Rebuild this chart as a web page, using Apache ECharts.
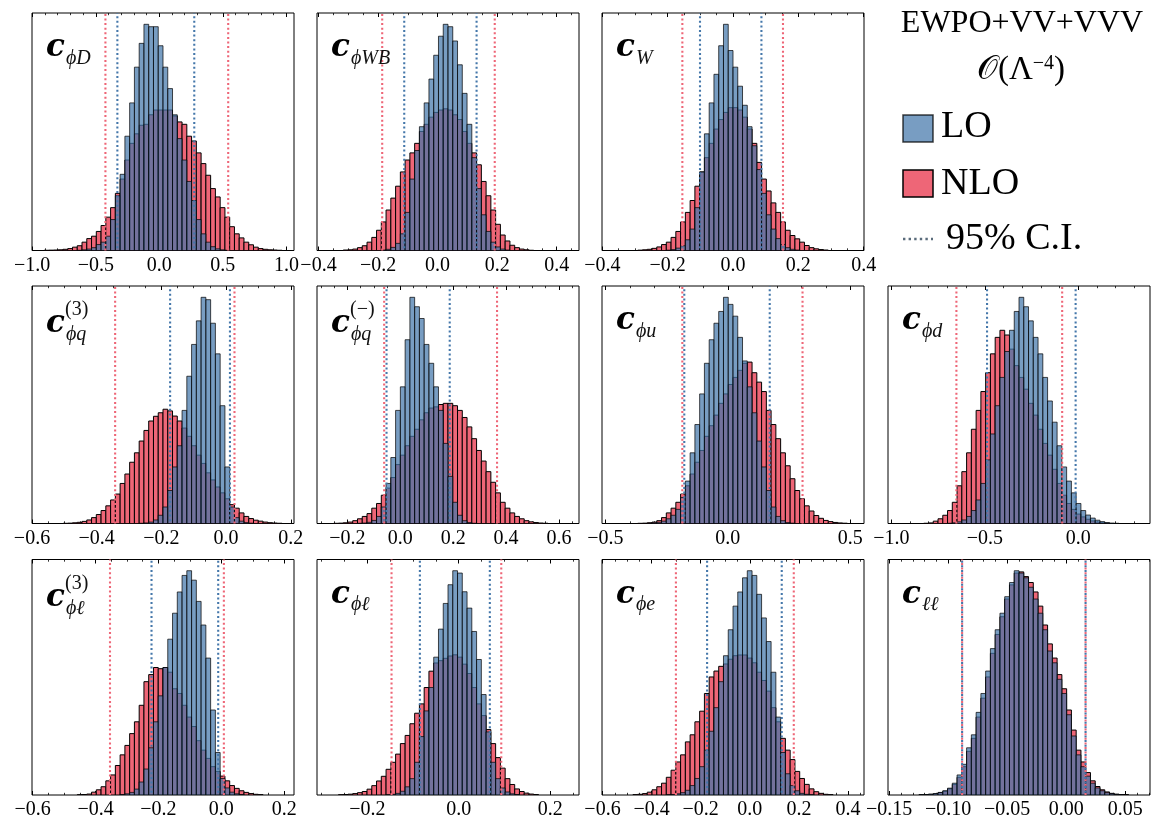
<!DOCTYPE html>
<html>
<head>
<meta charset="utf-8">
<script src="https://cdn.jsdelivr.net/npm/echarts@6/dist/echarts.min.js"></script>
<style>
  html, body { margin: 0; padding: 0; background: #fff; }
  #chart { width: 1157px; height: 820px; }
</style>
</head>
<body>
<div id="chart"></div>
<script>
// Posterior distributions of the Wilson coefficients (EWPO+VV+VVV, O(Λ^-4)),
// LO vs NLO. Each histogram has 50 equal bins spanning histRange; values are
// bin heights (arbitrary density units).

const subscripts   = ['ϕD', 'ϕWB', 'W', 'ϕq', 'ϕq', 'ϕu', 'ϕd', 'ϕℓ', 'ϕℓ', 'ϕe', 'ℓℓ'];
const superscripts = ['', '', '', '(3)', '(−)', '', '', '(3)', '', '', ''];

const histRange = [
  [-0.908, 0.966], [-0.365, 0.435], [-0.3645, 0.3645],
  [-0.5632, 0.1732], [-0.270, 0.631], [-0.4654, 0.5074], [-0.9543, 0.3203],
  [-0.5641, 0.1931], [-0.284, 0.237], [-0.5535, 0.4165], [-0.1409, 0.0609]
];

const phiD_LO  = [0,0,0,0,0,0,0,0.1,0.3,0.6,1.2,2.5,3.5,6,13,23,32,48,62,77,87,95,94,94,86,77,68,57,47,38,29,21,13,7,3.5,1.6,0.7,0.3,0.1,0,0,0,0,0,0,0,0,0,0,0];
const phiD_NLO = [0.1,0.15,0.2,0.3,0.5,0.8,1.4,2,3.5,5,6,8,10.5,14,18,24,30,38,45,49,52.6,53,57,59,59,59,59,56.5,54,53,48,46,41,36.5,31.6,26,22.5,18,14,10,7,5.3,3.5,2.4,1.4,0.8,0.5,0.3,0.2,0.1];

const phiWB_LO  = [0,0,0,0,0,0,0,0,0,0,0,0.2,0.5,1.3,3,7,16,30,42,52,62,72,82,90,95,94,88,78,66,53,39,26,15,8,3.5,1.5,0.6,0.2,0,0,0,0,0,0,0,0,0,0,0,0];
const phiWB_NLO = [0,0,0,0.2,0.3,0.6,1.2,2,3.5,5.5,8.5,12,17,22,27,33,38,41,45,50,53,56,58,59,59.5,59,57,55,50,45,41,36,29,23,17,11,6.5,4,2.2,1.2,0.6,0.3,0.1,0,0,0,0,0,0,0];

const W_LO  = [0,0,0,0,0,0,0,0,0,0,0,0.15,0.4,1,2,4.5,9,18,33,49,62,74,86,95,84,77,69,61,52,44,34,24,15,9,5,2.5,1.2,0.5,0.2,0,0,0,0,0,0,0,0,0,0,0];
const W_NLO = [0,0,0,0,0,0.15,0.3,0.5,0.9,1.5,2.5,3.5,5.5,8,12,16,21,27,33,39,45,51,55,58,60,60,59,56,51,45,37,30,25,20,16,12,8.5,6.3,4.9,3.5,2.1,1.2,0.7,0.4,0.2,0,0,0,0,0];

const phiq3_LO  = [0,0,0,0,0,0,0,0,0,0,0,0,0,0,0,0,0,0,0,0,0.1,0.25,0.6,1.5,3.5,7,14,24,33,48,62.5,76,86,96,95,85,72,50,24,7,2.5,1,0.4,0.15,0,0,0,0,0,0];
const phiq3_NLO = [0,0,0,0,0.08,0.15,0.3,0.5,0.9,1.5,2.5,3.8,5.5,7.5,10,12.5,17,21,26,30,35,39.5,43.5,45.5,47,48.5,47.8,45.6,43.5,40.5,37,33,29,25.5,21.5,18.5,15.5,13,10.5,8,6.5,4.5,3,2.1,1.4,1,0.6,0.35,0.2,0.1];

const phiqm_LO  = [0,0,0,0,0,0,0.1,0.2,0.5,1.3,3,7,17,28,48,58,78,96,92,87,76,68,58,48,34,20,9,3.5,1.2,0.4,0.1,0,0,0,0,0,0,0,0,0,0,0,0,0,0,0,0,0,0,0];
const phiqm_NLO = [0,0.08,0.15,0.3,0.6,1.2,2,3,4.2,6.5,8.5,12,15,19.5,25,29,33,37,40,44,47,49,49.5,50.5,51,51,50,48,45,41,36,31,26.5,22,17.5,13,9,6.5,4.5,3,2,1.2,0.7,0.4,0.2,0.1,0,0,0,0];

const phiu_LO  = [0,0,0,0,0,0,0,0.15,0.3,0.5,1,2,3.5,6,11,18,30,42,55,68,78,85,90,96,93,88,79,69,58,47,35,24,14,7,3,1.2,0.4,0.15,0,0,0,0,0,0,0,0,0,0,0,0];
const phiu_NLO = [0,0,0,0,0,0.08,0.15,0.3,0.6,1.2,2.5,4.5,6.5,9,12.5,16,21,26,31,37,41.5,46,51,55,59,62,65,68,68.5,64,60,56,48,42,36,30,24.5,19,14,10.5,7.5,5.3,3.4,2.2,1.3,0.8,0.45,0.25,0.12,0];

const phid_LO  = [0,0,0,0,0,0,0,0,0,0,0.1,0.3,0.7,1.5,3,5.5,10,17,27,38,50,62,73,82,90,96,92,86,79,72,62,52,43,33,24,18,13,8.5,5.5,3.6,2.3,1.4,0.8,0.4,0.2,0.1,0,0,0,0];
const phid_NLO = [0,0,0,0,0,0.1,0.25,1,2,3.5,5.5,9,16,22,30,40,48,56,64,72,79,82,80,74,67,62,57,51,46,40,34,29,23,17,12,8.5,6,4,2.8,1.8,1.1,0.6,0.3,0.15,0,0,0,0,0,0];

const phil3_LO  = [0,0,0,0,0,0,0,0,0,0,0,0,0,0,0,0,0.2,0.5,1.1,2.5,5.5,11,20,31,42,54,66,77,86,93,95,91,82,72,58,36,18,7,3,1.2,0.5,0.2,0,0,0,0,0,0,0,0];
const phil3_NLO = [0,0,0,0,0,0,0,0.1,0.2,0.4,1.2,2.2,3.5,6,8.5,12.5,17,21,26,31,38,48,51,54,53.5,54,52,45,43,38,33,29,23,19,15.5,12,10,8,6,4,2.8,1.8,1.1,0.6,0.3,0.15,0,0,0,0];

const phil_LO  = [0,0,0,0,0,0,0,0,0,0,0,0,0.1,0.3,0.7,1.6,3.5,7,14,25,36,46,59,71,82,90,96,95,87,80,70,58,43,27,14,7,3,1.3,0.5,0.2,0,0,0,0,0,0,0,0,0,0];
const phil_NLO = [0,0,0.1,0.2,0.35,0.6,1,1.5,2.5,4,6,8,11,14,17.5,22,25.5,30.5,35,39,46,53,56.5,57.5,58.5,59.5,60,59,56,52,46,39,34,28,22,16,11.5,7,4.5,2.6,1.5,0.8,0.4,0.2,0,0,0,0,0,0];

const phie_LO  = [0,0,0,0,0,0,0,0,0,0,0,0.1,0.2,0.5,1,2,4,7,12,19,27,37,48,59,70,80,86,92,95,93,85,75,65,52,33,18,9,4,1.8,0.7,0.3,0.1,0,0,0,0,0,0,0,0];
const phie_NLO = [0,0,0,0,0.15,0.3,0.6,1.2,2.2,3.5,5,7.5,10.5,14,17,22.5,25.5,31,35.5,43,50,52.5,54.5,55.5,57.5,59,59.3,59.3,58,56,52,48.5,44,37,31,24,19,15,10,7,4.5,2.6,1.4,0.7,0.3,0.15,0,0,0,0];

const ll_LO  = [0,0,0,0,0.1,0.2,0.35,0.6,1.1,1.8,2.9,5,8.5,13,20,25.5,35,43,52.5,62,70,77,84,90,95,94,92,88,83,77,70,61,56,49,43,34,25,17,12,8,5,3,1.8,1,0.5,0.25,0.1,0.05,0,0];
const ll_NLO = [0,0,0,0,0.05,0.15,0.3,0.5,1,1.6,2.6,4.5,7.5,12,18.5,24,33,41,50,60,68,75.5,83,89,94,94.5,92.5,90,86,80,72,64,58,51,45,36,27.5,19,14,9.5,6,3.6,2.2,1.3,0.7,0.35,0.15,0.08,0,0];

const countsLO  = [phiD_LO, phiWB_LO, W_LO, phiq3_LO, phiqm_LO, phiu_LO, phid_LO, phil3_LO, phil_LO, phie_LO, ll_LO];
const countsNLO = [phiD_NLO, phiWB_NLO, W_NLO, phiq3_NLO, phiqm_NLO, phiu_NLO, phid_NLO, phil3_NLO, phil_NLO, phie_NLO, ll_NLO];

// 95% credible intervals
const ciLO = [[-0.330, 0.275], [-0.112, 0.131], [-0.101, 0.087], [-0.173, 0.012], [-0.052, 0.187],
              [-0.178, 0.171], [-0.488, -0.014], [-0.222, -0.010], [-0.085, 0.068], [-0.174, 0.130], [-0.0882, 0.0164]];
const ciNLO = [[-0.424, 0.542], [-0.186, 0.192], [-0.155, 0.153], [-0.343, 0.026], [-0.061, 0.366],
               [-0.186, 0.305], [-0.652, -0.086], [-0.354, 0.008], [-0.147, 0.093], [-0.301, 0.179], [-0.0882, 0.0164]];

// tick labels
const majorTicks = [
  [-1.0, -0.5, 0.0, 0.5, 1.0], [-0.4, -0.2, 0.0, 0.2, 0.4], [-0.4, -0.2, 0.0, 0.2, 0.4],
  [-0.6, -0.4, -0.2, 0.0, 0.2], [-0.2, 0.0, 0.2, 0.4, 0.6], [-0.5, 0.0, 0.5], [-1.0, -0.5, 0.0],
  [-0.6, -0.4, -0.2, 0.0, 0.2], [-0.2, 0.0, 0.2], [-0.6, -0.4, -0.2, 0.0, 0.2, 0.4],
  [-0.15, -0.10, -0.05, 0.00, 0.05]
];
const minorStep = [0.1, 0.05, 0.05, 0.05, 0.05, 0.1, 0.1, 0.05, 0.05, 0.05, 0.01];
const tickDecimals = [1, 1, 1, 1, 1, 1, 1, 1, 1, 1, 2];

// ---- layout ----
const COL_LEFT = [32, 317, 602, 888];
const ROW_TOP = [13, 286, 559.5];
const PANEL_W = 262, PANEL_H = 237.5;
const panelCell = [[0,0],[0,1],[0,2],[1,0],[1,1],[1,2],[1,3],[2,0],[2,1],[2,2],[2,3]];

const BLUE = '#4477AA', RED = '#EE6677';
const SERIF = '"Liberation Serif", "DejaVu Serif", serif';
const MATHC = '"DejaVu Serif", "Liberation Serif", serif';

function fmtTick(v, d) {
  const s = Math.abs(v).toFixed(d);
  return (v < -1e-12 ? '\u2212' : '') + s;
}

function binData(range, counts) {
  const w = (range[1] - range[0]) / counts.length;
  const out = [];
  counts.forEach((c, k) => {
    if (c > 0) out.push([range[0] + k * w, range[0] + (k + 1) * w, c]);
  });
  return out;
}

function histRenderer(fill, stroke) {
  return function (params, api) {
    const p0 = api.coord([api.value(0), 0]);
    const p1 = api.coord([api.value(1), api.value(2)]);
    return {
      type: 'rect',
      shape: { x: p0[0], y: p1[1], width: p1[0] - p0[0], height: p0[1] - p1[1] },
      style: { fill: fill, stroke: stroke, lineWidth: 1 }
    };
  };
}

const grids = [], xAxes = [], yAxes = [], series = [], graphics = [];

countsLO.forEach((lo, i) => {
  const nlo = countsNLO[i];
  const r = histRange[i];
  const span = r[1] - r[0];
  const xmin = r[0] - 0.05 * span, xmax = r[1] + 0.05 * span;
  const yMax = 1.05 * Math.max(...lo, ...nlo);
  const [row, col] = panelCell[i];
  const gx = COL_LEFT[col], gy = ROW_TOP[row];

  grids.push({ left: gx, top: gy, width: PANEL_W, height: PANEL_H, show: true,
               borderColor: '#000', borderWidth: 1, backgroundColor: '#fff' });

  const step = minorStep[i];
  const minors = [];
  for (let k = Math.ceil(xmin / step - 1e-9); k <= Math.floor(xmax / step + 1e-9); k++) {
    minors.push(+(k * step).toFixed(6));
  }
  const majors = majorTicks[i];
  const d = tickDecimals[i];
  const baseAxis = { gridIndex: i, type: 'value', min: xmin, max: xmax,
                     axisLine: { show: false }, splitLine: { show: false } };
  // bottom: major ticks + labels
  xAxes.push(Object.assign({}, baseAxis, {
    position: 'bottom',
    axisTick: { show: true, inside: true, length: 4, customValues: majors, lineStyle: { color: '#000', width: 1 } },
    axisLabel: { show: true, customValues: majors, margin: 5, fontFamily: SERIF, fontSize: 20, color: '#000',
                 formatter: v => fmtTick(v, d) }
  }));
  // bottom: minor ticks
  xAxes.push(Object.assign({}, baseAxis, {
    position: 'bottom',
    axisTick: { show: true, inside: true, length: 2.2, customValues: minors, lineStyle: { color: '#000', width: 0.8 } },
    axisLabel: { show: false }
  }));
  // top: major ticks
  xAxes.push(Object.assign({}, baseAxis, {
    position: 'top',
    axisTick: { show: true, inside: true, length: 4, customValues: majors, lineStyle: { color: '#000', width: 1 } },
    axisLabel: { show: false }
  }));
  // top: minor ticks
  xAxes.push(Object.assign({}, baseAxis, {
    position: 'top',
    axisTick: { show: true, inside: true, length: 2.2, customValues: minors, lineStyle: { color: '#000', width: 0.8 } },
    axisLabel: { show: false }
  }));
  yAxes.push({ gridIndex: i, type: 'value', min: 0, max: yMax, show: false });

  const xi = 4 * i;
  series.push({
    type: 'custom', name: 'NLO', xAxisIndex: xi, yAxisIndex: i, z: 2, silent: true, clip: true,
    renderItem: histRenderer(RED, '#000'),
    encode: { x: [0, 1], y: 2 },
    data: binData(r, nlo)
  });
  series.push({
    type: 'custom', name: 'LO', xAxisIndex: xi, yAxisIndex: i, z: 3, silent: true, clip: true,
    renderItem: histRenderer('rgba(68,119,170,0.72)', 'rgba(0,0,0,0.7)'),
    encode: { x: [0, 1], y: 2 },
    data: binData(r, lo)
  });
  // credible-interval lines
  ciNLO[i].forEach(v => {
    series.push({ type: 'line', xAxisIndex: xi, yAxisIndex: i, z: 4, silent: true, symbol: 'none',
      data: [[v, 0], [v, yMax]],
      lineStyle: { color: RED, width: 2.1, type: [2, 2.6], cap: 'butt' } });
  });
  ciLO[i].forEach(v => {
    series.push({ type: 'line', xAxisIndex: xi, yAxisIndex: i, z: 5, silent: true, symbol: 'none',
      data: [[v, 0], [v, yMax]],
      lineStyle: { color: BLUE, width: 2.1, type: [2, 2.6], dashOffset: 2.3, cap: 'butt' } });
  });

  // coefficient label
  const hasSup = superscripts[i] !== '';
  graphics.push({ type: 'text', x: gx + 14, y: gy + (hasSup ? 38 : 35), z: 10,
    style: { text: 'c', font: 'italic bold 31px ' + MATHC, fill: '#000', align: 'left', verticalAlign: 'middle' } });
  graphics.push({ type: 'text', x: gx + 34, y: gy + (hasSup ? 49 : 45.5), z: 10,
    style: { text: subscripts[i], font: 'italic 20px ' + SERIF, fill: '#111', align: 'left', verticalAlign: 'middle' } });
  if (hasSup) {
    graphics.push({ type: 'text', x: gx + 33, y: gy + 24, z: 10,
      style: { text: superscripts[i], font: '20px ' + SERIF, fill: '#111', align: 'left', verticalAlign: 'middle' } });
  }
});

// legend block
graphics.push(
  { type: 'text', x: 1022, y: 24, style: { text: 'EWPO+VV+VVV', font: '32px ' + SERIF, fill: '#000', align: 'center', verticalAlign: 'middle' } },
  { type: 'text', x: 1021, y: 70, style: {
      text: '{a|𝒪(Λ}{s|\u22124}{a|)}', align: 'center', verticalAlign: 'middle',
      rich: { a: { fontFamily: SERIF, fontSize: 33, fill: '#000' },
              s: { fontFamily: SERIF, fontSize: 20, fill: '#000', verticalAlign: 'top' } } } },
  { type: 'rect', shape: { x: 903, y: 115, width: 30, height: 27 },
    style: { fill: 'rgba(68,119,170,0.72)', stroke: 'rgba(0,0,0,0.75)', lineWidth: 1.5 } },
  { type: 'text', x: 941, y: 127, style: { text: 'LO', font: '38px ' + SERIF, fill: '#000', align: 'left', verticalAlign: 'middle' } },
  { type: 'rect', shape: { x: 903, y: 170, width: 30, height: 27 },
    style: { fill: RED, stroke: '#000', lineWidth: 1.5 } },
  { type: 'text', x: 941, y: 184, style: { text: 'NLO', font: '38px ' + SERIF, fill: '#000', align: 'left', verticalAlign: 'middle' } },
  { type: 'line', shape: { x1: 903, y1: 239, x2: 933, y2: 239 },
    style: { stroke: '#5a6b7b', lineWidth: 2.4, lineDash: [2.4, 3.2] } },
  { type: 'text', x: 946, y: 239, style: { text: '95% C.I.', font: '38px ' + SERIF, fill: '#000', align: 'left', verticalAlign: 'middle' } }
);

const chart = echarts.init(document.getElementById('chart'), null, { renderer: 'canvas' });
chart.setOption({
  animation: false,
  backgroundColor: '#fff',
  grid: grids,
  xAxis: xAxes,
  yAxis: yAxes,
  series: series,
  graphic: graphics
});
</script>
</body>
</html>
